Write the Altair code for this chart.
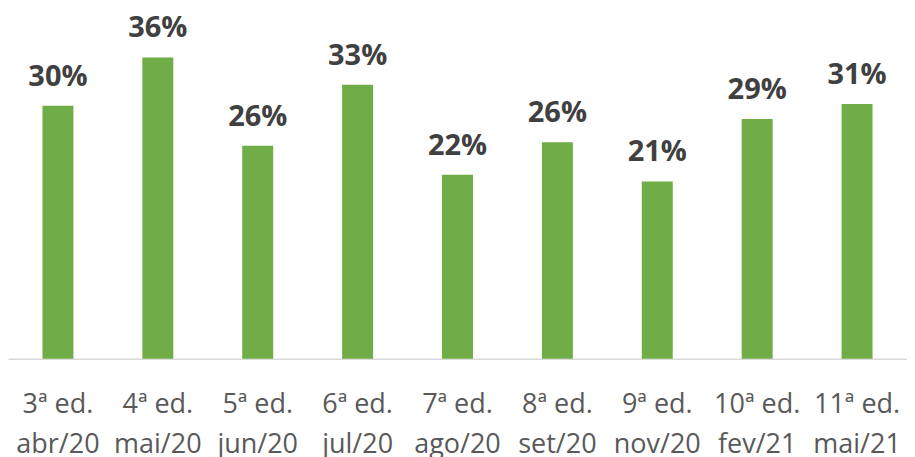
import altair as alt
import pandas as pd

editions = ["3ª ed.", "4ª ed.", "5ª ed.", "6ª ed.", "7ª ed.", "8ª ed.", "9ª ed.", "10ª ed.", "11ª ed."]
months = ["abr/20", "mai/20", "jun/20", "jul/20", "ago/20", "set/20", "nov/20", "fev/21", "mai/21"]
values = [0.304, 0.362, 0.256, 0.329, 0.221, 0.260, 0.213, 0.288, 0.306]

df = pd.DataFrame({
    "cat": [f"{e}|{m}" for e, m in zip(editions, months)],
    "value": values,
})
order = list(df["cat"])

x = alt.X("cat:N", sort=order, title=None,
          scale=alt.Scale(paddingInner=0.69, paddingOuter=0.345),
          axis=alt.Axis(labelAngle=0, labelExpr="split(datum.label, '|')",
                        labelFont="Open Sans", labelFontSize=27, labelColor="#595959",
                        labelPadding=33, labelLineHeight=40, ticks=False,
                        domainColor="#D9D9D9", domainWidth=1.5))
y = alt.Y("value:Q", title=None, scale=alt.Scale(domain=[0, 0.421], nice=False),
          axis=None)

bars = alt.Chart(df).mark_bar(color="#70AD47").encode(x=x, y=y)
labels = alt.Chart(df).mark_text(
    dy=-20, baseline="alphabetic", font="Open Sans", fontSize=29,
    fontWeight="bold", color="#404040"
).encode(x=x, y=y, text=alt.Text("value:Q", format=".0%"))

chart = (bars + labels).properties(width=900, height=351, padding=0).configure_view(
    strokeWidth=0
).configure_axis(grid=False)

chart.save("out.html", embed_options={"renderer": "svg", "actions": False})
